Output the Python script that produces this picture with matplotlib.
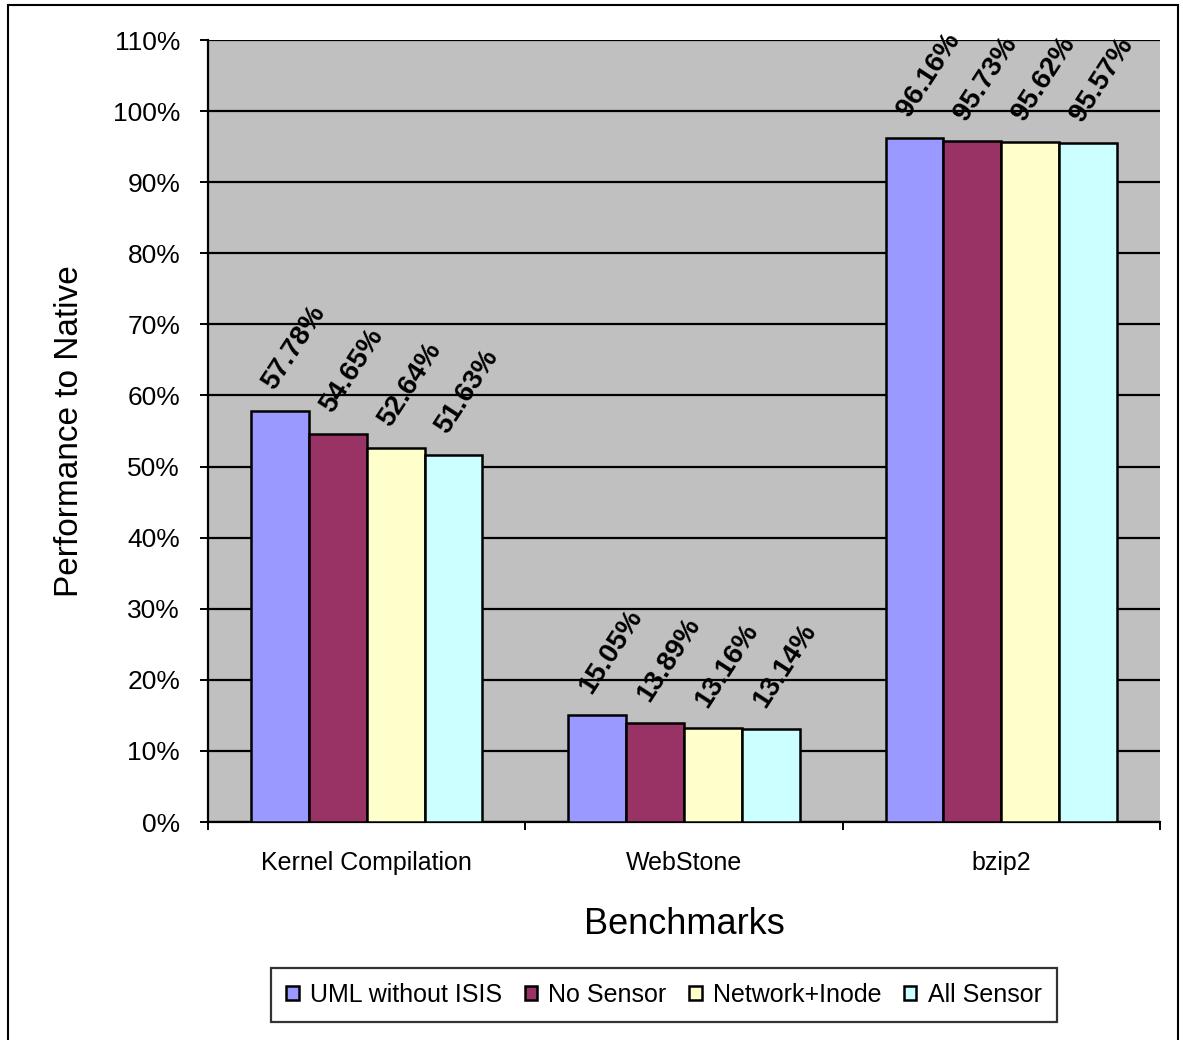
import matplotlib.pyplot as plt
import numpy as np
from matplotlib.patches import Rectangle

plt.rcParams['font.family'] = ['Liberation Sans', 'DejaVu Sans']

categories = ['Kernel Compilation', 'WebStone', 'bzip2']
series = ['UML without ISIS', 'No Sensor', 'Network+Inode', 'All Sensor']
values = [
    [57.78, 15.05, 96.16],   # UML without ISIS
    [54.65, 13.89, 95.73],   # No Sensor
    [52.64, 13.16, 95.62],   # Network+Inode
    [51.63, 13.14, 95.57],   # All Sensor
]
colors = ['#9999FF', '#993366', '#FFFFCC', '#CCFFFF']
yticks = list(range(0, 111, 10))

fig = plt.figure(figsize=(11.83, 10.40), dpi=100)
ax = fig.add_axes([0.1758, 0.2096, 0.8048, 0.7519])
ax.set_facecolor('#C0C0C0')

x = np.arange(len(categories))
width = 0.73 / 4
for i, (name, vals) in enumerate(zip(series, values)):
    pos = x - 0.365 + width * (i + 0.5)
    ax.bar(pos, vals, width, color=colors[i], edgecolor='black',
           linewidth=1.8, label=name, zorder=3)
    for px, v in zip(pos, vals):
        ax.annotate(f"{v:.2f}%", (px, v), xytext=(10, 12),
                    textcoords='offset points', rotation=57,
                    ha='center', va='bottom', fontsize=20,
                    fontweight='bold', zorder=4)

ax.set_xlim(-0.5, 2.5)
ax.set_ylim(0, 110)
ax.set_yticks(yticks)
ax.set_yticklabels([f"{t}%" for t in yticks], fontsize=19)
ax.yaxis.grid(True, color='black', linewidth=1.6, zorder=0)
ax.set_axisbelow(True)

ax.set_xticks([-0.5, 0.5, 1.5, 2.5], minor=False)
ax.set_xticklabels([])
ax.set_xticks(x, minor=True)
ax.set_xticklabels(categories, minor=True, fontsize=18)
ax.tick_params(axis='x', which='minor', length=0, pad=21)
ax.tick_params(axis='x', which='major', length=6, width=1.4, direction='out')
ax.tick_params(axis='y', length=6, width=1.4, direction='out', pad=14)

for s in ['top', 'right']:
    ax.spines[s].set_visible(False)
ax.spines['left'].set_linewidth(1.6)
ax.spines['bottom'].set_linewidth(1.6)

ax.set_xlabel('Benchmarks', fontsize=26, labelpad=23)
ax.set_ylabel('Performance to Native', fontsize=24, labelpad=20)

leg = ax.legend(loc='upper center', bbox_to_anchor=(0.479, -0.1867), ncol=4,
                fontsize=18, frameon=True, fancybox=False, edgecolor='black',
                handlelength=0.5, handleheight=0.5, handletextpad=0.45,
                columnspacing=0.9, borderpad=0.6, borderaxespad=0)
leg.get_frame().set_linewidth(1.6)

fig.patches.append(Rectangle((8 / 1183, -0.01), 1170 / 1183, 1.0 - 5 / 1040 + 0.01,
                             transform=fig.transFigure, fill=False,
                             edgecolor='black', linewidth=1.5))

fig.savefig('out.png', dpi=100)
